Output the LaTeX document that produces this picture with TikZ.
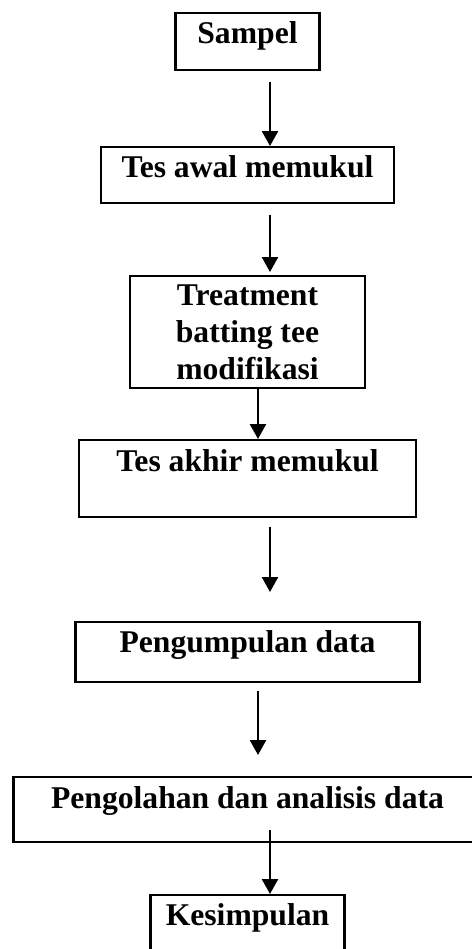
\documentclass[tikz,border=0pt]{standalone}
\usepackage{fontspec}
\setmainfont{Liberation Serif}
\usetikzlibrary{arrows.meta}

\begin{document}
\begin{tikzpicture}[line width=1.4pt,>={Triangle[width=0.32cm,length=0.30cm]},
  stage/.style={draw,inner sep=0pt,anchor=north,align=center,
    font=\bfseries\fontsize{18}{21}\selectfont}]
\useasboundingbox (0,0) rectangle (9.44,-18.98);
% ---------- boxes (text sits high, as typed in a word processor) ----------
\node[stage,minimum width=2.88cm,text height=0.62cm,text depth=0.52cm]
  (sampel) at (4.95,-0.23) {Sampel};
\node[stage,minimum width=5.86cm,text height=0.60cm,text depth=0.52cm]
  (tesawal) at (4.95,-2.92) {Tes awal memukul};
\node[stage,minimum width=4.70cm,minimum height=2.24cm]
  (treatment) at (4.95,-5.50) {Treatment\\batting tee\\modifikasi};
\node[stage,minimum width=6.74cm,text height=0.62cm,text depth=0.92cm]
  (tesakhir) at (4.95,-8.78) {Tes akhir memukul};
\node[stage,minimum width=6.88cm,text height=0.60cm,text depth=0.60cm]
  (kumpul) at (4.95,-12.42) {Pengumpulan data};
% runs past the right edge of the page
\node[stage,minimum width=9.36cm,text height=0.62cm,text depth=0.68cm]
  (olah) at (4.95,-15.52) {Pengolahan dan analisis data};
% bottom is cut by the page
\node[stage,minimum width=3.88cm,text height=0.60cm,text depth=0.66cm]
  (simpul) at (4.95,-17.88) {Kesimpulan};
% ---------- arrows ----------
\draw[->] ([xshift=0.45cm,yshift=-0.22cm]sampel.south) -- ([xshift=0.45cm]tesawal.north);
\draw[->] ([xshift=0.45cm,yshift=-0.22cm]tesawal.south) -- ([xshift=0.45cm,yshift=0.06cm]treatment.north);
\draw[->] ([xshift=0.21cm,yshift=0.04cm]treatment.south) -- ([xshift=0.21cm]tesakhir.north);
\draw[->] ([xshift=0.45cm,yshift=-0.18cm]tesakhir.south) -- ([xshift=0.45cm,yshift=0.58cm]kumpul.north);
\draw[->] ([xshift=0.21cm,yshift=-0.16cm]kumpul.south) -- ([xshift=0.21cm,yshift=0.42cm]olah.north);
\draw[->] ([xshift=0.45cm,yshift=0.26cm]olah.south) -- ([xshift=0.45cm]simpul.north);
\end{tikzpicture}
\end{document}
